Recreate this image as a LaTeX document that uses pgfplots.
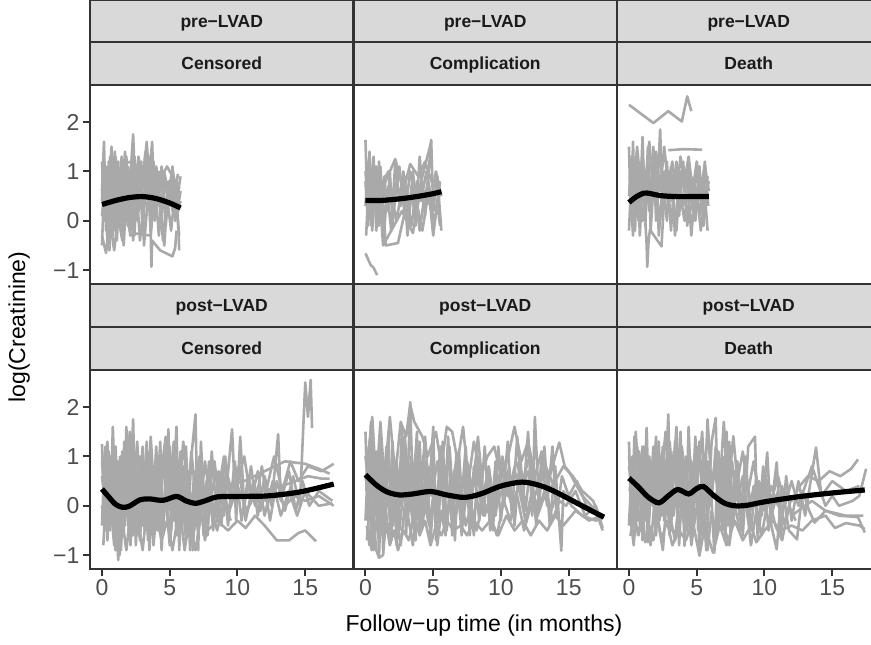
\documentclass[border=0pt]{standalone}
\usepackage{fontspec}
\setmainfont{Liberation Sans}
\usepackage{pgfplots}
\pgfplotsset{compat=1.18}
\definecolor{c20}{HTML}{333333}
\definecolor{c30}{HTML}{4D4D4D}
\definecolor{c10}{HTML}{1A1A1A}
\definecolor{stripfill}{HTML}{D9D9D9}
\definecolor{cgrey}{HTML}{A9A9A9}
\pgfplotsset{
  panel/.style={
    scale only axis, width=263.5pt, height=199pt, anchor=south west,
    xmin=-0.883, xmax=18.56, ymin=-1.28, ymax=2.75,
    axis line style={draw=c20, line width=2.2pt},
    tick align=outside, major tick length=7pt,
    tick style={draw=c20, line width=2pt},
    xtick=\empty, ytick=\empty, minor tick num=0,
    ticklabel style={font=\fontsize{23}{27}\selectfont, text=c30},
    axis on top,
  },
  greyline/.style={draw=cgrey, line width=2.6pt, line join=round},
  smoothline/.style={draw=black, line width=5.2pt, smooth},
}
\begin{document}
\begin{tikzpicture}[x=1pt,y=1pt]
\path[use as bounding box] (0,0) rectangle (871,645);
\clip (0,0) rectangle (871,645);

% ---------- pre-LVAD / Censored ----------
\begin{axis}[panel, at={(90pt,361pt)}, ytick={-1,0,1,2}, yticklabels={−1,0,1,2}, ytick pos=left]
\addplot[greyline] coordinates {(0,0.6)(0.15,1.6)(0.3,-0.2)(0.5,1.2)(0.7,0.1)(0.9,1.0)(1.1,-0.4)(1.3,0.8)(1.5,0.2)(1.7,1.1)(1.9,-0.1)(2.1,0.9)(2.3,1.75)(2.5,0.3)(2.8,0.9)(3.0,-0.2)(3.3,1.0)(3.6,0.1)(3.9,0.8)(4.2,-0.3)(4.5,0.6)(4.8,0.2)(5.1,0.9)(5.4,0.0)(5.7,0.7)};
\addplot[greyline] coordinates {(0,-0.5)(0.2,1.0)(0.4,0.3)(0.6,1.3)(0.8,-0.3)(1.0,0.7)(1.2,1.2)(1.4,-0.2)(1.6,0.6)(1.8,1.3)(2.0,0.2)(2.2,0.9)(2.4,-0.3)(2.6,1.1)(2.9,0.4)(3.2,1.4)(3.5,0.2)(3.8,1.2)(4.1,0.3)(4.4,1.1)(4.7,-0.1)(5.0,0.8)(5.3,0.3)(5.6,0.95)};
\addplot[greyline] coordinates {(0,1.2)(0.2,0.0)(0.35,0.9)(0.55,-0.6)(0.75,0.5)(0.95,1.4)(1.15,0.0)(1.35,0.9)(1.6,-0.5)(1.8,0.5)(2.05,1.0)(2.3,-0.4)(2.6,0.6)(2.9,1.2)(3.1,-0.5)(3.4,0.5)(3.7,1.6)(3.9,0.0)(4.2,0.7)(4.5,-0.4)(4.8,0.5)(5.1,-0.2)(5.4,0.6)(5.7,-0.3)};
\addplot[greyline] coordinates {(0.05,0.2)(0.25,0.8)(0.45,-0.3)(0.65,0.6)(0.85,0.0)(1.05,1.1)(1.25,0.3)(1.45,1.3)(1.65,0.0)(1.85,0.7)(2.1,-0.2)(2.35,0.6)(2.6,0.0)(2.85,0.8)(3.1,0.3)(3.35,1.1)(3.6,-0.3)(3.85,0.5)(4.1,1.0)(4.35,0.0)(4.6,0.9)(4.9,0.3)(5.2,1.1)(5.5,0.4)(5.8,0.9)};
\addplot[greyline] coordinates {(0,-0.3)(0.3,-0.65)(0.6,0.0)(0.9,-0.6)(1.2,0.1)(1.5,-0.4)(1.8,0.2)(2.1,-0.3)(2.3,-0.25)(3.6,-0.3)(3.65,-0.93)(3.7,-0.4)(4.3,-0.6)(5.2,-0.72)(5.4,-0.55)(5.5,-0.2)};
\addplot[greyline] coordinates {(0.1,0.5)(0.3,1.1)(0.5,0.4)(0.7,1.5)(0.9,0.6)(1.1,0.2)(1.3,1.0)(1.5,0.5)(1.7,1.4)(1.9,0.6)(2.2,1.2)(2.4,0.5)(2.7,1.3)(3.0,0.7)(3.3,1.6)(3.5,0.8)(3.8,0.4)(4.0,1.1)(4.3,0.6)(4.6,1.0)(4.9,0.5)(5.2,0.8)(5.5,0.1)(5.8,0.6)};
\addplot[greyline] coordinates {(1.4,1.15)(2.2,1.2)(3.0,1.0)(3.6,1.3)(4.2,0.8)(4.8,1.1)(5.6,0.7)};
\addplot[greyline] coordinates {(0,0.4)(0.12,1.3)(0.25,0.5)(0.4,1.0)(0.55,0.2)(0.7,0.9)(0.85,0.5)(1.0,1.3)(1.2,0.5)(1.4,0.9)(1.6,0.3)(1.9,1.1)(2.1,0.5)(2.4,1.3)(2.7,0.2)(3.0,1.1)(3.2,0.5)(3.5,1.3)(3.7,0.6)(4.0,0.2)(4.3,1.0)(4.6,0.3)(5.0,0.6)(5.3,0.9)(5.6,0.2)(5.8,0.4)};
\addplot[greyline] coordinates {(0,0.1)(0.2,0.6)(0.4,-0.4)(0.6,0.8)(0.8,0.3)(1.0,-0.2)(1.3,0.5)(1.6,0.9)(1.9,0.0)(2.2,0.4)(2.5,0.9)(2.8,-0.4)(3.1,0.3)(3.4,0.8)(3.7,0.0)(4.0,0.6)(4.3,0.3)(4.6,-0.5)(4.9,0.8)(5.2,0.2)(5.5,0.7)(5.7,-0.6)};
\addplot[smoothline] coordinates {(0,0.33)(1,0.41)(2,0.47)(3,0.49)(4,0.45)(5,0.36)(5.8,0.26)};
\end{axis}

% ---------- pre-LVAD / Complication ----------
\begin{axis}[panel, at={(353.5pt,361pt)}]
\addplot[greyline] coordinates {(0,1.64)(0.15,0.2)(0.3,1.4)(0.45,-0.1)(0.6,1.0)(0.8,0.1)(1.0,1.2)(1.2,0.0)(1.4,0.9)(1.6,0.2)(1.8,1.0)(2.0,-0.1)(2.3,0.8)(2.6,0.3)(2.9,0.9)(3.2,0.0)(3.5,1.0)(3.8,0.2)(4.1,0.8)(4.4,0.1)(4.85,1.64)(5.0,0.2)(5.3,0.9)(5.6,-0.2)};
\addplot[greyline] coordinates {(0,0.3)(0.2,1.2)(0.4,0.5)(0.6,1.3)(0.8,-0.2)(1.0,0.7)(1.3,-0.5)(1.6,0.6)(1.9,-0.2)(2.2,1.2)(2.5,0.4)(2.8,1.0)(3.1,-0.3)(3.4,0.7)(3.7,-0.1)(4.0,1.3)(4.3,0.3)(4.6,0.8)(5.0,-0.3)(5.3,0.4)(5.5,-0.1)};
\addplot[greyline] coordinates {(0.05,-0.3)(0.25,0.9)(0.5,-0.2)(0.7,0.8)(0.9,0.4)(1.1,1.1)(1.3,0.3)(1.5,-0.5)(2.4,-0.45)(3.0,0.3)(3.6,0.6)(4.2,-0.2)(4.6,0.5)(5.1,0.0)(5.5,0.6)};
\addplot[greyline] coordinates {(0,0.8)(0.2,-0.1)(0.4,1.0)(0.6,0.3)(0.8,1.1)(1.0,-0.1)(1.3,0.8)(1.7,1.0)(2.1,0.3)(2.5,1.1)(2.9,0.1)(3.3,1.0)(3.7,0.5)(4.0,-0.2)(4.4,0.6)(4.8,0.3)(5.2,1.0)(5.6,0.5)};
\addplot[greyline] coordinates {(0,-0.66)(0.15,-0.75)(0.37,-0.89)(0.6,-0.95)(0.86,-1.1)};
\addplot[greyline] coordinates {(1.0,0.5)(2.2,1.25)(2.8,0.6)(3.3,1.15)(3.9,0.9)(4.4,1.2)(5.0,0.7)};
\addplot[greyline] coordinates {(1.3,-0.5)(2.7,0.2)(3.5,-0.25)(4.2,0.9)(4.85,1.6)};
\addplot[greyline] coordinates {(0,1.0)(0.15,0.5)(0.3,1.3)(0.5,0.6)(0.7,1.1)(0.9,0.0)(1.1,0.6)(1.4,0.1)(1.7,0.7)(2.0,0.4)(2.3,0.0)(2.7,0.7)(3.0,0.5)(3.4,-0.1)(3.8,0.8)(4.1,0.4)(4.5,1.0)(4.9,0.4)(5.2,0.2)(5.5,0.8)};
\addplot[smoothline] coordinates {(0,0.41)(1,0.41)(2,0.43)(3,0.46)(4,0.5)(5,0.55)(5.6,0.59)};
\end{axis}

% ---------- pre-LVAD / Death ----------
\begin{axis}[panel, at={(617pt,361pt)}]
\addplot[greyline] coordinates {(0,1.5)(0.15,0.0)(0.3,1.6)(0.45,-0.2)(0.6,1.2)(0.8,0.2)(1.0,1.7)(1.2,-0.1)(1.4,1.1)(1.6,0.3)(1.8,1.5)(2.0,0.0)(2.3,1.85)(2.5,0.2)(2.8,1.2)(3.1,-0.2)(3.4,1.0)(3.7,0.1)(4.0,1.2)(4.3,-0.1)(4.6,0.9)(4.9,0.0)(5.2,1.1)(5.5,-0.1)(5.8,0.9)};
\addplot[greyline] coordinates {(0,-0.2)(0.2,1.0)(0.4,0.3)(0.6,1.4)(0.8,-0.3)(1.0,0.8)(1.2,0.3)(1.4,1.5)(1.6,-0.2)(1.8,0.7)(2.0,1.3)(2.2,-0.3)(2.5,0.8)(2.8,0.0)(3.1,1.1)(3.4,-0.3)(3.7,0.9)(4.0,0.3)(4.3,1.0)(4.6,-0.3)(4.9,0.7)(5.2,0.1)(5.5,0.9)(5.8,-0.2)};
\addplot[greyline] coordinates {(0.1,0.6)(0.3,-0.3)(0.5,0.8)(0.7,0.0)(0.9,1.0)(1.1,0.5)(1.3,-0.46)(1.35,-0.93)(1.45,-0.4)(1.55,-0.18)(2.4,-0.52)(2.6,0.5)(2.9,1.0)(3.2,0.4)(3.5,1.2)(3.8,0.5)(4.1,0.0)(4.4,0.8)(4.7,0.3)(5.0,1.0)(5.3,0.4)(5.6,1.2)(5.85,0.3)};
\addplot[greyline] coordinates {(0,2.35)(1.8,1.98)(2.9,2.22)(3.9,2.01)(4.3,2.52)(4.6,2.22)};
\addplot[greyline] coordinates {(2.9,1.43)(4.0,1.45)(5.4,1.44)};
\addplot[greyline] coordinates {(0.05,0.9)(0.25,0.3)(0.5,1.3)(0.75,0.5)(1.0,0.0)(1.25,0.9)(1.5,0.2)(1.75,1.2)(2.0,0.6)(2.3,0.0)(2.6,1.0)(2.9,0.3)(3.2,0.7)(3.5,-0.2)(3.8,1.0)(4.1,0.6)(4.4,1.1)(4.7,0.2)(5.0,0.6)(5.3,-0.2)(5.6,0.5)(5.9,0.8)};
\addplot[greyline] coordinates {(0,0.5)(0.2,1.3)(0.4,0.6)(0.6,1.5)(0.8,0.9)(1.0,1.3)(1.2,0.7)(1.5,1.6)(1.7,0.9)(2.0,1.4)(2.3,0.6)(2.6,1.5)(2.9,0.7)(3.2,1.2)(3.5,0.5)(3.8,1.3)(4.1,0.8)(4.4,1.3)(4.7,0.6)(5.0,1.2)(5.3,0.7)(5.6,1.1)(5.9,0.6)};
\addplot[smoothline] coordinates {(0,0.37)(0.5,0.48)(1.1,0.56)(1.6,0.55)(2.3,0.51)(3.5,0.49)(4.5,0.49)(5.9,0.49)};
\end{axis}

% ---------- post-LVAD / Censored ----------
\begin{axis}[panel, at={(90pt,76pt)}, ytick={-1,0,1,2}, yticklabels={−1,0,1,2}, ytick pos=left,
  xtick={0,5,10,15}, xticklabels={0,5,10,15}, xtick pos=bottom]
\addplot[greyline] coordinates {(0,1.25)(0.2,-0.3)(0.4,0.9)(0.6,-0.5)(0.8,1.6)(1.0,0.0)(1.2,-1.1)(1.4,0.6)(1.6,-0.6)(1.8,1.6)(2.0,-0.2)(2.3,1.75)(2.5,-0.8)(2.8,1.0)(3.0,-0.4)(3.3,1.3)(3.5,-0.9)(3.8,0.8)(4.0,-0.3)(4.3,1.3)(4.5,-0.6)(4.9,1.55)(5.1,-0.5)(5.5,1.6)(5.7,-0.9)(6.0,0.8)(6.3,-0.6)(6.6,1.0)(6.9,1.85)(7.1,-0.9)(7.3,1.3)(7.6,-0.3)(7.9,0.9)(8.2,-0.5)(8.6,0.7)(9.0,-0.2)(9.6,1.55)(9.9,-0.3)(10.2,1.4)(10.5,0.0)(11.0,0.8)(11.5,-0.2)(12.0,0.6)(12.5,0.0)(13.0,1.45)(13.2,0.1)(13.8,0.7)(14.3,-0.1)(14.8,0.5)(15.3,0.0)(16.0,0.3)(17.0,0.1)};
\addplot[greyline] coordinates {(0,-0.4)(0.2,1.0)(0.4,-0.7)(0.6,0.4)(0.8,-0.3)(1.0,1.2)(1.3,-0.7)(1.5,1.1)(1.7,-0.4)(1.9,0.9)(2.1,-0.8)(2.4,0.5)(2.6,1.3)(2.9,-0.3)(3.1,0.9)(3.4,-0.7)(3.6,1.1)(3.9,-0.1)(4.1,0.9)(4.4,-0.9)(4.7,0.6)(5.0,1.2)(5.3,-0.3)(5.6,0.9)(5.9,-0.5)(6.2,1.2)(6.5,-0.9)(6.8,0.7)(7.0,-0.4)(7.4,0.6)(7.8,-0.6)(8.1,1.1)(8.5,-0.3)(8.9,0.8)(9.3,-0.4)(9.8,0.9)(10.3,-0.3)(10.8,0.6)(11.3,0.0)(11.8,0.8)(12.4,-0.3)(12.9,0.5)(13.5,-0.1)(14.1,0.6)(14.6,0.0)(15.0,2.5)(15.2,1.8)(15.4,2.55)(15.5,1.58)};
\addplot[greyline] coordinates {(0.05,0.5)(0.25,1.2)(0.45,0.1)(0.65,1.0)(0.85,0.3)(1.05,-0.6)(1.25,0.7)(1.45,0.0)(1.65,1.3)(1.85,0.1)(2.05,0.8)(2.25,-0.5)(2.5,0.6)(2.7,0.0)(3.0,1.2)(3.2,0.2)(3.5,0.8)(3.7,-0.5)(4.0,1.2)(4.2,0.1)(4.6,1.0)(4.8,-0.2)(5.2,0.9)(5.4,0.2)(5.8,1.1)(6.1,0.0)(6.4,0.7)(6.7,-0.9)(7.0,0.5)(7.2,-0.2)(7.6,0.9)(8.0,0.1)(8.4,0.7)(8.8,-0.4)(9.2,0.7)(9.7,0.1)(10.1,0.8)(10.6,-0.3)(11.2,0.5)(11.7,-0.1)(12.2,0.4)(12.7,1.0)(13.3,0.3)(13.9,0.9)(14.5,0.5)(15.2,0.8)(16.2,0.7)(17.1,0.85)};
\addplot[greyline] coordinates {(0,0.9)(0.2,0.2)(0.4,1.3)(0.6,0.0)(0.8,0.8)(1.0,-0.3)(1.2,0.4)(1.4,-0.9)(1.6,0.3)(1.8,-0.2)(2.0,1.2)(2.2,0.3)(2.5,1.0)(2.7,-0.6)(3.0,0.4)(3.2,-0.2)(3.5,1.1)(3.8,-0.4)(4.1,0.5)(4.3,-0.1)(4.6,1.1)(4.9,0.0)(5.3,1.3)(5.6,-0.6)(5.9,0.4)(6.2,-0.3)(6.6,1.1)(6.9,0.2)(7.2,0.8)(7.5,-0.6)(7.9,0.3)(8.3,0.9)(8.7,0.0)(9.1,1.0)(9.5,0.0)(10.0,0.5)(10.5,1.0)(11.0,0.1)(11.5,0.7)(12.0,-0.2)(12.6,0.5)(13.2,-0.2)(13.8,0.3)(14.4,-0.2)(15.0,0.3)(16.0,0.0)(17.0,0.05)};
\addplot[greyline] coordinates {(0,0.0)(0.3,-0.5)(0.6,0.2)(0.9,-0.8)(1.1,-0.2)(1.3,-1.0)(1.5,-0.3)(1.8,-0.9)(2.0,-0.4)(2.3,-0.6)(2.6,-0.2)(3.0,-0.9)(3.3,-0.1)(3.6,-0.6)(4.0,-0.2)(4.4,-0.7)(4.8,-0.3)(5.2,-0.9)(5.5,-0.4)(5.8,-0.2)(6.1,-0.9)(6.4,-0.3)(6.9,-0.9)(7.3,-0.2)(7.8,-0.5)(8.5,-0.3)(9.3,-0.5)(10.0,-0.3)(10.6,-0.45)(11.3,-0.2)(12.0,-0.4)(12.9,-0.7)(13.8,-0.7)(14.5,-0.55)(15.0,-0.5)(15.8,-0.72)};
\addplot[greyline] coordinates {(0.1,0.2)(0.35,0.7)(0.55,-0.2)(0.75,0.5)(0.95,0.1)(1.15,0.9)(1.35,-0.4)(1.55,0.4)(1.75,-0.1)(1.95,0.5)(2.2,0.0)(2.4,0.9)(2.65,-0.2)(2.9,0.5)(3.15,-0.5)(3.4,0.3)(3.65,0.9)(3.9,0.0)(4.2,0.6)(4.45,-0.4)(4.7,0.3)(5.0,-0.6)(5.3,0.5)(5.6,0.0)(5.9,0.7)(6.2,-0.4)(6.5,0.3)(6.8,-0.3)(7.1,0.5)(7.5,0.0)(7.9,0.5)(8.3,-0.2)(8.8,0.4)(9.4,-0.1)(10.0,0.4)(10.7,-0.1)(11.4,0.3)(12.1,0.1)(12.8,0.3)(13.5,0.0)(14.2,0.2)(15.0,0.1)(16.0,0.2)(17.1,0.0)};
\addplot[greyline] coordinates {(9.0,0.4)(10.5,0.5)(12.0,0.7)(13.5,0.9)(15.0,0.85)(16.0,0.75)(16.8,0.65)};
\addplot[greyline] coordinates {(10,0.2)(12,0.3)(13.8,0.45)(15.2,0.6)(16.2,0.55)(16.8,0.55)};
\addplot[greyline] coordinates {(0,0.6)(0.25,0.0)(0.5,1.1)(0.7,0.4)(0.9,-0.5)(1.1,0.5)(1.35,1.0)(1.55,-0.2)(1.8,0.4)(2.05,1.5)(2.3,0.1)(2.55,0.7)(2.8,-0.7)(3.05,0.5)(3.3,0.0)(3.6,1.4)(3.85,0.2)(4.1,-0.5)(4.4,0.7)(4.7,1.4)(4.95,0.1)(5.25,0.7)(5.5,-0.6)(5.75,0.5)(6.0,1.3)(6.3,0.3)(6.6,-0.2)(6.9,0.6)(7.2,1.0)(7.5,0.2)(7.8,0.6)(8.2,-0.4)(8.6,0.3)(9.0,1.0)(9.4,0.2)(9.8,0.5)};
\addplot[greyline] coordinates {(0.1,-0.8)(0.3,0.3)(0.5,-0.4)(0.75,0.2)(1.0,-0.9)(1.25,0.0)(1.5,-0.5)(1.75,0.6)(2.0,-0.6)(2.3,0.2)(2.6,-0.5)(2.9,0.1)(3.2,-0.4)(3.5,0.4)(3.8,-0.8)(4.1,0.1)(4.4,-0.3)(4.7,0.2)(5.0,-0.8)(5.3,0.1)(5.6,-0.3)(5.9,0.3)(6.2,-0.7)(6.5,0.1)(6.8,-0.5)(7.2,0.2)(7.6,-0.7)(8.0,0.0)(8.5,-0.5)(9.0,0.1)(9.5,-0.3)};
\addplot[smoothline] coordinates {(0,0.34)(0.5,0.18)(1,0.03)(1.5,-0.03)(2,-0.01)(2.8,0.12)(3.5,0.14)(4.5,0.11)(5.5,0.19)(6.2,0.1)(6.9,0.05)(7.6,0.1)(8.5,0.18)(10,0.19)(12.2,0.2)(14.6,0.28)(17.1,0.44)};
\end{axis}

% ---------- post-LVAD / Complication ----------
\begin{axis}[panel, at={(353.5pt,76pt)}, xtick={0,5,10,15}, xticklabels={0,5,10,15}, xtick pos=bottom]
\addplot[greyline] coordinates {(0,1.5)(0.2,-0.3)(0.4,1.7)(0.6,-0.6)(0.8,1.1)(1.0,-1.05)(1.2,0.8)(1.4,-0.4)(1.7,1.5)(1.9,-0.7)(2.1,1.0)(2.4,-0.3)(2.7,1.6)(3.0,-0.6)(3.3,2.1)(3.5,0.2)(3.8,1.5)(4.0,-0.5)(4.3,1.0)(4.6,-0.2)(5.0,1.6)(5.2,-0.7)(5.5,1.2)(5.8,-0.3)(6.1,1.4)(6.4,-0.6)(6.7,1.0)(7.0,-0.2)(7.4,1.2)(7.7,-0.6)(8.0,0.8)(8.4,-0.3)(8.8,1.2)(9.2,-0.5)(9.6,0.9)(10.0,-0.3)(10.5,1.3)(10.8,-0.2)(11.2,1.4)(11.6,0.0)(12.0,1.5)(12.3,-0.2)(12.5,1.8)(12.8,0.0)(13.2,1.2)(13.6,-0.4)(14.0,0.8)(14.45,-0.91)(14.6,0.3)(15.2,0.0)(16.0,-0.2)(17.0,-0.3)(17.4,-0.25)};
\addplot[greyline] coordinates {(0,-0.3)(0.25,1.2)(0.45,-0.9)(0.7,0.6)(0.9,-0.4)(1.1,1.4)(1.3,-0.9)(1.6,0.4)(1.8,-0.3)(2.0,1.3)(2.3,-0.8)(2.6,0.5)(2.9,1.2)(3.1,-0.4)(3.4,0.8)(3.7,-0.7)(4.0,1.3)(4.2,-0.1)(4.5,0.9)(4.8,-0.7)(5.1,0.5)(5.4,-0.3)(5.7,1.3)(6.0,-0.5)(6.3,0.7)(6.6,-0.7)(6.9,1.1)(7.2,-0.3)(7.6,0.5)(8.0,-0.6)(8.3,1.0)(8.7,-0.2)(9.0,0.7)(9.4,-0.5)(9.8,1.2)(10.2,0.0)(10.6,0.8)(11.0,-0.4)(11.4,1.0)(11.8,-0.1)(12.2,0.9)(12.6,-0.4)(13.0,1.0)(13.4,0.0)(13.8,1.2)(14.1,-0.2)(14.5,0.6)(15.0,0.2)(15.6,0.5)(16.3,0.0)(17.0,-0.1)(17.5,-0.5)};
\addplot[greyline] coordinates {(0.1,0.8)(0.5,1.8)(0.8,0.4)(1.1,1.7)(1.4,0.5)(1.8,1.8)(2.2,0.6)(2.6,1.7)(3.0,1.4)(3.3,2.05)(3.6,1.7)(4.2,1.4)(4.6,1.0)(5.2,1.5)(5.6,0.8)(6.0,1.6)(6.4,1.5)(6.8,0.9)(7.2,1.6)(7.6,0.5)(8.0,1.3)(8.5,0.6)(9.0,1.0)(9.5,1.2)(10.0,0.6)(10.6,1.1)(11.0,1.6)(11.5,0.9)(12.0,1.3)(12.5,0.6)(13.0,1.1)(13.5,0.5)(14.0,1.0)(14.3,1.28)(14.7,0.8)(15.0,0.7)(16.0,0.2)(17.0,-0.1)};
\addplot[greyline] coordinates {(0.1,-0.4)(0.3,-0.8)(0.5,0.0)(0.8,-0.9)(1.0,-1.05)(1.3,-1.0)(1.5,-0.3)(1.8,-0.8)(2.1,-0.5)(2.4,-0.9)(2.8,-0.5)(3.2,-0.7)(3.6,-0.2)(4.0,-0.6)(4.4,-0.3)(4.8,-0.8)(5.2,-0.4)(5.6,-0.6)(6.0,-0.3)(6.5,-0.5)(7.0,-0.4)(7.5,-0.6)(8.0,-0.3)(8.6,-0.5)(9.2,-0.3)(9.8,-0.6)(10.4,-0.2)(11.0,-0.5)(11.6,-0.3)(12.2,-0.6)(12.8,-0.3)(13.4,-0.5)(14.0,-0.2)(14.6,-0.4)(15.5,-0.1)(16.5,-0.3)(17.4,-0.2)};
\addplot[greyline] coordinates {(0.05,0.3)(0.3,0.9)(0.55,0.1)(0.75,1.0)(0.95,0.2)(1.2,0.7)(1.45,0.0)(1.7,0.9)(1.95,0.3)(2.2,0.8)(2.5,0.1)(2.8,0.9)(3.1,0.3)(3.4,1.0)(3.7,0.3)(4.0,0.7)(4.3,0.0)(4.6,0.8)(4.9,0.2)(5.3,0.9)(5.6,0.3)(5.9,0.8)(6.2,0.0)(6.6,0.6)(7.0,0.1)(7.4,0.8)(7.8,0.2)(8.2,0.7)(8.6,0.1)(9.0,0.6)(9.5,0.0)(10.0,0.8)(10.5,0.2)(11.0,0.7)(11.5,0.3)(12.0,0.7)(12.5,0.2)(13.0,0.6)(13.5,0.3)(14.0,0.5)(14.6,0.8)(15.3,0.6)(16.0,0.3)(16.8,0.1)(17.4,-0.3)};
\addplot[greyline] coordinates {(0,0.6)(0.3,0.0)(0.6,1.0)(0.9,0.3)(1.2,-0.5)(1.5,0.6)(1.8,0.0)(2.1,0.5)(2.5,-0.5)(2.8,0.3)(3.1,0.9)(3.5,-0.3)(3.8,0.5)(4.2,-0.4)(4.5,0.4)(4.9,0.9)(5.2,0.0)(5.6,0.5)(5.9,-0.5)(6.3,0.3)(6.7,0.9)(7.1,-0.2)(7.5,0.4)(7.9,-0.4)(8.3,0.3)(8.8,-0.2)(9.3,0.3)(9.8,0.1)(10.3,0.5)(10.8,0.0)(11.3,0.4)(11.8,-0.3)(12.3,0.3)(12.8,-0.1)(13.3,0.4)(13.8,-0.3)(14.3,0.1)(14.8,0.0)(15.5,0.3)(16.2,-0.2)(17.0,0.0)(17.5,-0.45)};
\addplot[greyline] coordinates {(0,1.0)(0.3,0.3)(0.55,1.3)(0.8,-0.2)(1.05,0.9)(1.3,0.2)(1.55,1.2)(1.8,0.5)(2.05,-0.4)(2.3,0.9)(2.6,0.0)(2.9,1.4)(3.2,0.4)(3.5,-0.4)(3.8,0.9)(4.1,0.4)(4.4,1.4)(4.7,0.2)(5.0,0.7)(5.3,-0.4)(5.6,0.9)(5.9,0.3)(6.2,1.2)(6.5,0.0)(6.8,0.5)(7.1,-0.6)(7.5,0.9)(7.9,0.3)(8.3,1.4)(8.7,0.2)(9.1,0.8)(9.6,-0.2)(10.1,1.0)(10.6,0.3)(11.1,0.9)(11.6,0.5)(12.1,1.0)(12.7,0.3)(13.3,0.8)(13.9,0.4)};
\addplot[greyline] coordinates {(0.1,-0.7)(0.35,0.1)(0.6,-0.9)(0.85,-0.2)(1.1,-0.6)(1.4,0.2)(1.7,-0.6)(2.0,0.0)(2.3,-0.3)(2.6,-0.8)(2.9,0.0)(3.2,-0.3)(3.5,-0.8)(3.8,0.1)(4.1,-0.5)(4.4,0.0)(4.7,-0.4)(5.0,0.2)(5.3,-0.8)(5.6,-0.1)(5.9,-0.6)(6.2,0.1)(6.6,-0.3)(7.0,0.3)(7.4,-0.4)(7.8,0.0)(8.2,-0.5)(8.7,0.1)(9.2,-0.2)(9.7,-0.6)(10.2,0.1)(10.7,-0.3)(11.2,0.2)(11.7,-0.5)(12.2,0.0)(12.7,-0.2)(13.2,0.2)(13.7,-0.1)(14.2,0.3)};
\addplot[smoothline] coordinates {(0,0.63)(0.8,0.42)(1.6,0.28)(2.5,0.22)(3.5,0.24)(4.8,0.29)(6,0.22)(7.3,0.17)(8.5,0.24)(10,0.4)(11.6,0.48)(13,0.4)(14.1,0.27)(15.5,0.07)(16.6,-0.09)(17.6,-0.23)};
\end{axis}

% ---------- post-LVAD / Death ----------
\begin{axis}[panel, at={(617pt,76pt)}, xtick={0,5,10,15}, xticklabels={0,5,10,15}, xtick pos=bottom]
\addplot[greyline] coordinates {(0,1.3)(0.2,-0.5)(0.4,1.4)(0.6,-0.3)(0.8,1.0)(1.0,-0.7)(1.3,1.58)(1.5,-0.2)(1.8,1.2)(2.0,-0.6)(2.3,1.0)(2.6,-0.3)(2.9,1.85)(3.1,-0.5)(3.4,1.3)(3.7,-0.8)(4.0,0.9)(4.2,-0.4)(4.4,1.6)(4.7,-0.6)(5.0,1.2)(5.2,-1.0)(5.5,1.0)(5.8,-0.3)(6.1,1.3)(6.4,1.78)(6.6,-0.5)(6.9,1.0)(7.1,-0.7)(7.4,1.3)(7.7,-0.4)(8.0,0.9)(8.4,-0.6)(8.8,1.2)(9.3,1.4)(9.5,-0.7)(9.9,0.8)(10.3,-0.5)(10.9,0.88)(11.2,-0.6)(11.6,0.6)(12.0,-0.3)(12.5,0.5)(13.0,-0.2)(13.8,1.18)(14.2,0.2)(15.0,0.5)(16.0,0.3)(17.0,0.4)};
\addplot[greyline] coordinates {(0,-0.4)(0.25,1.0)(0.45,-0.6)(0.7,0.7)(0.9,-0.2)(1.1,1.2)(1.4,-0.74)(1.7,0.8)(1.9,-0.4)(2.2,1.3)(2.4,-0.2)(2.7,0.8)(3.0,-0.6)(3.3,1.1)(3.6,-0.2)(3.8,1.5)(4.1,-0.81)(4.4,0.5)(4.6,-0.3)(4.9,1.4)(5.1,-0.5)(5.4,0.8)(5.7,-0.9)(6.0,0.6)(6.3,-0.95)(6.6,1.1)(6.9,-0.3)(7.2,1.5)(7.5,-0.6)(7.8,0.7)(8.2,-0.3)(8.6,1.0)(9.0,-0.5)(9.4,0.6)(9.8,-0.2)(10.2,1.08)(10.5,-0.4)(10.9,-0.88)(11.3,0.4)(11.8,-0.5)(12.4,-0.68)(12.8,0.3)(13.3,-0.1)(13.7,-0.34)(14.5,-0.1)(15.5,-0.2)(16.9,-0.23)(17.4,-0.54)};
\addplot[greyline] coordinates {(0.05,0.3)(0.3,0.9)(0.5,0.0)(0.75,1.1)(1.0,0.3)(1.25,-0.3)(1.5,0.6)(1.75,0.0)(2.0,0.9)(2.25,0.2)(2.5,1.2)(2.75,0.0)(3.0,0.8)(3.3,-0.2)(3.6,0.7)(3.9,0.1)(4.2,1.0)(4.5,-0.2)(4.8,0.7)(5.1,0.2)(5.4,-0.6)(5.7,0.6)(6.0,0.0)(6.3,0.8)(6.6,0.2)(6.9,-0.5)(7.2,0.4)(7.5,0.0)(7.9,0.6)(8.3,-0.2)(8.7,0.5)(9.1,-0.1)(9.6,0.5)(10.0,-0.1)(10.5,0.4)(11.0,0.0)(11.5,0.3)(12.0,0.1)(12.6,0.4)(13.2,0.6)(14.0,0.5)(14.8,0.7)(15.6,0.6)(16.4,0.75)(16.9,0.94)};
\addplot[greyline] coordinates {(0.1,-0.61)(0.4,-0.2)(0.7,-0.6)(1.0,-0.1)(1.2,-0.74)(1.5,-0.4)(1.8,-0.7)(2.1,-0.2)(2.4,-0.7)(2.8,-0.3)(3.2,-0.8)(3.7,-0.5)(4.2,-0.7)(4.7,-0.3)(5.2,-1.01)(5.6,-0.4)(6.2,-0.95)(6.7,-0.4)(7.2,-0.8)(7.8,-0.3)(8.4,-0.7)(9.0,-0.4)(9.4,-0.74)(10.0,-0.5)(10.6,-0.3)(11.2,-0.5)(12.0,-0.4)(12.8,-0.5)(13.5,-0.3)(14.5,-0.2)(15.2,-0.45)(16.0,-0.35)(17.0,-0.4)(17.4,-0.47)};
\addplot[greyline] coordinates {(0,0.8)(0.3,0.2)(0.6,1.2)(0.9,0.4)(1.2,0.9)(1.5,0.1)(1.8,0.7)(2.1,0.0)(2.4,0.6)(2.7,1.5)(3.0,0.3)(3.3,0.9)(3.6,0.1)(3.9,1.2)(4.2,0.5)(4.5,1.0)(4.8,0.0)(5.1,0.6)(5.4,1.5)(5.6,0.4)(5.8,1.75)(6.1,0.3)(6.4,1.0)(6.7,0.4)(7.0,1.7)(7.3,0.2)(7.7,1.41)(8.0,0.5)(8.4,1.1)(8.8,0.3)(9.2,0.9)(9.6,0.2)(10.0,0.7)(10.5,0.1)(11.0,0.6)(11.5,0.0)(12.0,0.5)(12.5,0.0)(13.0,0.4)(13.5,0.8)(14.0,0.4)(14.5,0.0)(15.0,0.2)(15.5,0.0)(16.5,0.1)(17.0,0.2)(17.5,0.75)};
\addplot[greyline] coordinates {(12.0,-0.2)(13.5,0.1)(14.5,-0.1)(16.0,-0.2)(17.3,-0.2)};
\addplot[greyline] coordinates {(0,1.0)(0.25,0.2)(0.5,1.5)(0.75,0.4)(1.0,1.2)(1.25,0.0)(1.5,1.0)(1.75,0.3)(2.0,1.4)(2.25,-0.3)(2.5,0.7)(2.75,0.1)(3.0,1.3)(3.25,0.5)(3.5,1.6)(3.75,0.2)(4.0,0.8)(4.3,-0.5)(4.6,0.9)(4.9,0.3)(5.2,1.3)(5.5,-0.2)(5.8,0.9)(6.1,0.1)(6.4,1.2)(6.7,-0.2)(7.0,0.7)(7.3,-0.4)(7.6,0.9)(8.0,0.1)(8.4,0.6)(8.8,-0.3)(9.2,0.4)(9.6,-0.5)(10.0,0.6)(10.5,-0.2)(11.0,0.3)(11.5,-0.4)(12.0,0.2)};
\addplot[greyline] coordinates {(0.1,-0.2)(0.35,-0.8)(0.6,0.2)(0.85,-0.5)(1.1,0.3)(1.35,-0.3)(1.6,-0.8)(1.9,0.1)(2.2,-0.4)(2.5,-0.9)(2.8,0.2)(3.1,-0.3)(3.4,-0.7)(3.7,0.2)(4.0,-0.3)(4.3,0.3)(4.6,-0.8)(4.9,-0.2)(5.2,0.3)(5.5,-0.4)(5.8,-0.9)(6.1,-0.1)(6.4,-0.6)(6.7,0.2)(7.0,-0.4)(7.4,-0.8)(7.8,0.0)(8.2,-0.5)(8.6,0.2)(9.0,-0.8)(9.4,-0.1)(9.8,-0.6)(10.3,0.2)(10.8,-0.4)(11.3,-0.7)(11.8,0.0)(12.3,-0.3)};
\addplot[smoothline] coordinates {(0,0.56)(0.7,0.38)(1.4,0.18)(2.2,0.06)(2.9,0.2)(3.6,0.33)(4.4,0.24)(5.0,0.35)(5.5,0.39)(6.2,0.22)(7.0,0.06)(7.8,0.0)(8.7,0.01)(10,0.08)(12.4,0.18)(15,0.26)(17.4,0.32)};
\end{axis}

% ---------- strips ----------
\tikzset{strip/.style={fill=stripfill, draw=c20, line width=2.2pt},
         striptext/.style={anchor=base, text=c10, font=\fontsize{17.5}{21}\selectfont\bfseries}}
\foreach \xa/\xb in {90/353.5, 353.5/617, 617/880.5}{
  \draw[strip] (\xa,603) rectangle (\xb,645);
  \draw[strip] (\xa,560) rectangle (\xb,603);
  \draw[strip] (\xa,318) rectangle (\xb,361);
  \draw[strip] (\xa,275) rectangle (\xb,318);
}
\node[striptext] at (221.75,617.7) {pre−LVAD};
\node[striptext] at (485.25,617.7) {pre−LVAD};
\node[striptext] at (748.75,617.7) {pre−LVAD};
\node[striptext] at (221.75,575.2) {Censored};
\node[striptext] at (485.25,575.2) {Complication};
\node[striptext] at (748.75,575.2) {Death};
\node[striptext] at (221.75,333.2) {post−LVAD};
\node[striptext] at (485.25,333.2) {post−LVAD};
\node[striptext] at (748.75,333.2) {post−LVAD};
\node[striptext] at (221.75,290.2) {Censored};
\node[striptext] at (485.25,290.2) {Complication};
\node[striptext] at (748.75,290.2) {Death};

% ---------- axis titles ----------
\node[anchor=base, font=\fontsize{23}{27}\selectfont] at (484,13) {Follow−up time (in months)};
\node[anchor=base, rotate=90, font=\fontsize{23}{27}\selectfont] at (25,318) {log(Creatinine)};
\end{tikzpicture}
\end{document}
